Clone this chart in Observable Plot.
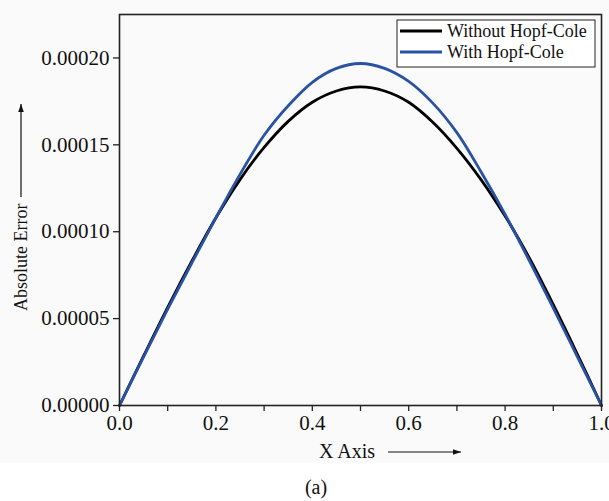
<!DOCTYPE html>
<html>
<head>
<meta charset="utf-8">
<script src="https://cdn.jsdelivr.net/npm/d3@7"></script>
<script src="https://cdn.jsdelivr.net/npm/@observablehq/plot@0.6"></script>
<style>
  html, body { margin: 0; padding: 0; background: #ffffff; }
  #wrap { position: relative; width: 609px; height: 501px; overflow: hidden; }
  #cap { position: absolute; left: 0; width: 632px; top: 476px; text-align: center;
         font-family: "Liberation Serif", "Times New Roman", serif; font-size: 20px; color: #111; }
</style>
</head>
<body>
<div id="wrap"><div id="chart"></div><div id="cap">(a)</div></div>
<script>
const xValues = [0, 0.05, 0.1, 0.15, 0.2, 0.25, 0.3, 0.35, 0.4, 0.45, 0.5, 0.55, 0.6, 0.65, 0.7, 0.75, 0.8, 0.85, 0.9, 0.95, 1.0];
const withoutHopfCole = [0, 0.0000285, 0.0000565, 0.0000830, 0.0001080, 0.0001300, 0.0001485, 0.0001635, 0.0001745, 0.0001810, 0.0001833, 0.0001810, 0.0001745, 0.0001630, 0.0001480, 0.0001300, 0.0001090, 0.0000850, 0.0000580, 0.0000295, 0];
const withHopfCole = [0, 0.0000280, 0.0000555, 0.0000820, 0.0001080, 0.0001330, 0.0001555, 0.0001725, 0.0001860, 0.0001940, 0.0001968, 0.0001940, 0.0001865, 0.0001740, 0.0001570, 0.0001345, 0.0001100, 0.0000835, 0.0000560, 0.0000280, 0];
const seriesNames = ["Without Hopf-Cole", "With Hopf-Cole"];
const seriesColors = ["#000000", "#2a52a3"];
const xTicks = [0, 0.2, 0.4, 0.6, 0.8, 1.0];
const xMinorTicks = [0.1, 0.3, 0.5, 0.7, 0.9];
const yTicks = [0, 0.00005, 0.0001, 0.00015, 0.0002];
const xLabel = "X Axis";
const yLabel = "Absolute Error";

const data = [];
seriesNames.forEach((name, si) => {
  const vals = si === 0 ? withoutHopfCole : withHopfCole;
  xValues.forEach((x, i) => data.push({series: name, x, y: vals[i]}));
});

const font = '"Liberation Serif", "Times New Roman", serif';

const plot = Plot.plot({
  width: 609,
  height: 463,
  marginLeft: 119,
  marginRight: 8,
  marginTop: 14,
  marginBottom: 58,
  style: {background: "#fafafa", fontFamily: font, fontSize: "21px", color: "#111", overflow: "hidden"},
  x: {domain: [0, 1]},
  y: {domain: [0, 0.000225]},
  color: {domain: seriesNames, range: seriesColors},
  marks: [
    Plot.line(data, {x: "x", y: "y", z: "series", stroke: "series", strokeWidth: 2.8, curve: "catmull-rom"}),
    Plot.axisX({ticks: xTicks, tickFormat: d3.format(".1f"), tickSize: 6, tickPadding: 4, label: null, stroke: "#222", strokeWidth: 1.3}),
    Plot.axisX({ticks: xMinorTicks, tickFormat: () => "", tickSize: 6, label: null, stroke: "#222", strokeWidth: 1.3}),
    Plot.axisY({ticks: yTicks, tickFormat: d3.format(".5f"), tickSize: 6, tickPadding: 4, label: null, stroke: "#222", strokeWidth: 1.3}),
    Plot.frame({stroke: "#222", strokeWidth: 1.6})
  ]
});

document.getElementById("chart").appendChild(plot);

// decorations: axis titles with arrows and legend
const svg = d3.select(plot);
const defs = svg.append("defs");
defs.append("marker").attr("id", "ah").attr("viewBox", "0 0 10 10").attr("refX", 10).attr("refY", 5)
  .attr("markerWidth", 8).attr("markerHeight", 8).attr("markerUnits", "userSpaceOnUse").attr("orient", "auto")
  .append("path").attr("d", "M0,1.5 L10,5 L0,8.5 Z").attr("fill", "#111");

svg.append("text").attr("x", 319).attr("y", 458).attr("text-anchor", "start").attr("font-family", font).attr("font-size", 20)
  .attr("fill", "#111").text(xLabel);
svg.append("line").attr("x1", 388).attr("x2", 461).attr("y1", 452).attr("y2", 452)
  .attr("stroke", "#111").attr("stroke-width", 1.2).attr("marker-end", "url(#ah)");

svg.append("text").attr("transform", "translate(27,311) rotate(-90)").attr("text-anchor", "start").attr("font-family", font)
  .attr("font-size", 18).attr("fill", "#111").text(yLabel);
svg.append("line").attr("x1", 21).attr("x2", 21).attr("y1", 197).attr("y2", 104)
  .attr("stroke", "#111").attr("stroke-width", 1.2).attr("marker-end", "url(#ah)");

const lg = svg.append("g");
lg.append("rect").attr("x", 397).attr("y", 20).attr("width", 198).attr("height", 47)
  .attr("fill", "#ffffff").attr("stroke", "#222").attr("stroke-width", 1);
seriesNames.forEach((name, i) => {
  const yy = 31 + i * 21;
  lg.append("line").attr("x1", 400).attr("x2", 442).attr("y1", yy).attr("y2", yy)
    .attr("stroke", seriesColors[i]).attr("stroke-width", 2.8);
  lg.append("text").attr("x", 447).attr("y", yy + 6).attr("text-anchor", "start").attr("font-family", font).attr("font-size", 18)
    .attr("fill", "#111").text(name);
});
</script>
</body>
</html>
